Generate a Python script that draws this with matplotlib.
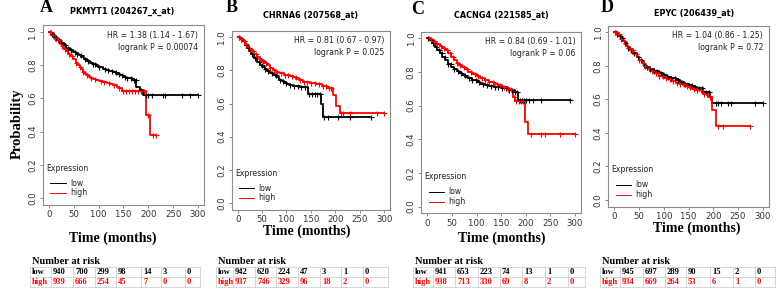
import matplotlib
matplotlib.use('Agg')
import matplotlib.pyplot as plt
import numpy as np
from matplotlib import font_manager as fm
from matplotlib.font_manager import FontProperties

# ---------------- data ----------------
panel_letters = ['A', 'B', 'C', 'D']
titles = ['PKMYT1 (204267_x_at)', 'CHRNA6 (207568_at)', 'CACNG4 (221585_at)', 'EPYC (206439_at)']
hr_texts = ['HR = 1.38 (1.14 - 1.67)', 'HR = 0.81 (0.67 - 0.97)',
            'HR = 0.84 (0.69 - 1.01)', 'HR = 1.04 (0.86 - 1.25)']
p_texts = ['logrank P = 0.00074', 'logrank P = 0.025', 'logrank P = 0.06', 'logrank P = 0.72']

# Kaplan-Meier step points (time in months, survival probability)
a_low_t = [0, 5, 10, 14, 18, 25, 30, 35, 42, 49, 55, 60, 65, 70, 76, 82, 88, 95, 101, 108, 114, 120, 128, 135, 142, 149, 155, 160, 168, 176, 183, 190]
a_low_s = [1.0, 0.99, 0.975, 0.965, 0.955, 0.935, 0.92, 0.905, 0.893, 0.88, 0.87, 0.86, 0.85, 0.84, 0.828, 0.815, 0.805, 0.795, 0.788, 0.78, 0.772, 0.765, 0.758, 0.75, 0.74, 0.73, 0.725, 0.72, 0.712, 0.67, 0.65, 0.622]
a_low_end = 300
a_low_cens = [2, 6, 11, 15, 21, 27, 32, 38, 44, 52, 57, 64, 73, 79, 88, 93, 101, 112, 118, 127, 134, 141, 146, 153, 158, 165, 171, 175, 186, 195, 200, 207, 229, 234, 268, 284, 299]

a_high_t = [0, 5, 10, 16, 22, 26, 30, 34, 38, 43, 49, 54, 58, 62, 65, 69, 72, 76, 80, 85, 89, 95, 100, 108, 116, 122, 128, 136, 141, 146, 196, 203]
a_high_s = [1.0, 0.985, 0.965, 0.95, 0.93, 0.915, 0.90, 0.885, 0.87, 0.853, 0.835, 0.815, 0.80, 0.787, 0.775, 0.762, 0.75, 0.74, 0.73, 0.722, 0.715, 0.71, 0.705, 0.698, 0.69, 0.685, 0.68, 0.67, 0.66, 0.645, 0.50, 0.38]
a_high_end = 215
a_high_cens = [2, 4, 8, 13, 19, 26, 33, 41, 47, 55, 62, 69, 77, 85, 93, 104, 111, 121, 131, 141, 150, 156, 162, 168, 174, 180, 186, 191, 200, 209, 215]

b_low_t = [0, 5, 10, 15, 20, 24, 28, 33, 39, 45, 50, 55, 60, 66, 73, 79, 85, 90, 95, 101, 107, 114, 120, 127, 134, 144, 171, 175]
b_low_s = [1.0, 0.99, 0.975, 0.955, 0.934, 0.917, 0.90, 0.878, 0.853, 0.835, 0.82, 0.807, 0.795, 0.785, 0.773, 0.758, 0.745, 0.735, 0.725, 0.718, 0.713, 0.709, 0.705, 0.702, 0.699, 0.657, 0.60, 0.518]
b_low_end = 273
b_low_cens = [2, 6, 12, 17, 23, 30, 36, 43, 49, 56, 63, 70, 78, 86, 93, 100, 108, 115, 123, 130, 138, 146, 152, 158, 163, 168, 176, 186, 206, 231, 273]

b_high_t = [0, 5, 10, 15, 20, 24, 28, 33, 39, 45, 50, 55, 60, 66, 73, 79, 85, 95, 107, 114, 120, 127, 134, 148, 161, 172, 182, 195, 202, 209]
b_high_s = [1.0, 0.99, 0.98, 0.962, 0.944, 0.93, 0.915, 0.90, 0.884, 0.868, 0.855, 0.842, 0.83, 0.816, 0.803, 0.793, 0.785, 0.775, 0.767, 0.758, 0.75, 0.742, 0.733, 0.725, 0.717, 0.705, 0.693, 0.653, 0.586, 0.546]
b_high_end = 300
b_high_cens = [3, 7, 13, 18, 25, 32, 38, 45, 52, 59, 66, 74, 81, 89, 97, 104, 112, 119, 127, 136, 143, 151, 158, 166, 174, 180, 187, 192, 211, 216, 231, 285, 300]

c_low_t = [0, 5, 10, 16, 20, 25, 30, 36, 42, 49, 55, 60, 65, 70, 77, 83, 91, 100, 108, 117, 126, 135, 151, 165, 178, 185]
c_low_s = [1.0, 0.99, 0.975, 0.95, 0.93, 0.91, 0.89, 0.871, 0.85, 0.832, 0.817, 0.805, 0.795, 0.785, 0.773, 0.762, 0.75, 0.74, 0.73, 0.723, 0.717, 0.712, 0.703, 0.693, 0.683, 0.635]
c_low_end = 290
c_low_cens = [2, 7, 12, 18, 23, 29, 35, 42, 48, 55, 62, 69, 76, 84, 91, 99, 106, 114, 121, 129, 137, 144, 152, 159, 166, 172, 179, 183, 188, 192, 196, 201, 206, 215, 230, 290]

c_high_t = [0, 5, 10, 16, 20, 25, 30, 36, 42, 49, 55, 60, 65, 70, 77, 83, 91, 100, 108, 117, 126, 135, 143, 151, 163, 171, 175, 178, 198, 205]
c_high_s = [1.0, 0.995, 0.985, 0.974, 0.965, 0.955, 0.944, 0.931, 0.912, 0.891, 0.872, 0.855, 0.842, 0.83, 0.816, 0.802, 0.788, 0.775, 0.763, 0.752, 0.741, 0.73, 0.72, 0.709, 0.70, 0.693, 0.653, 0.63, 0.505, 0.43]
c_high_end = 300
c_high_cens = [3, 8, 14, 20, 27, 33, 40, 46, 53, 60, 67, 74, 81, 88, 96, 103, 111, 118, 126, 133, 141, 148, 156, 163, 169, 176, 181, 186, 190, 195, 210, 230, 240, 270, 300]

d_low_t = [0, 5, 10, 14, 18, 22, 25, 28, 32, 38, 45, 50, 55, 60, 65, 72, 80, 90, 99, 107, 115, 124, 133, 141, 150, 158, 167, 180, 194, 197]
d_low_s = [1.0, 0.99, 0.98, 0.965, 0.95, 0.935, 0.92, 0.908, 0.895, 0.875, 0.855, 0.837, 0.82, 0.807, 0.795, 0.782, 0.77, 0.758, 0.746, 0.735, 0.725, 0.713, 0.702, 0.693, 0.685, 0.676, 0.666, 0.645, 0.616, 0.58]
d_low_end = 300
d_low_cens = [2, 6, 11, 16, 22, 28, 34, 40, 47, 53, 60, 67, 73, 80, 87, 94, 101, 108, 115, 122, 129, 136, 143, 150, 157, 164, 171, 178, 185, 191, 205, 210, 215, 230, 235, 285, 300]

d_high_t = [0, 5, 10, 14, 18, 22, 25, 28, 32, 38, 45, 50, 55, 60, 65, 72, 80, 90, 99, 107, 115, 124, 133, 141, 150, 158, 165, 180, 190, 197, 206]
d_high_s = [1.0, 0.99, 0.978, 0.963, 0.948, 0.933, 0.918, 0.906, 0.893, 0.872, 0.85, 0.832, 0.815, 0.80, 0.785, 0.77, 0.755, 0.742, 0.73, 0.72, 0.71, 0.70, 0.69, 0.681, 0.672, 0.664, 0.656, 0.635, 0.615, 0.535, 0.441]
d_high_end = 274
d_high_cens = [1, 4, 9, 14, 20, 26, 31, 37, 43, 50, 57, 63, 70, 77, 84, 91, 98, 105, 112, 119, 126, 133, 140, 147, 154, 161, 168, 175, 182, 188, 193, 210, 220, 274]

# numbers at risk
risk_low = [[940, 700, 299, 98, 14, 3, 0],
            [942, 620, 224, 47, 3, 1, 0],
            [941, 653, 223, 74, 13, 1, 0],
            [945, 697, 289, 90, 15, 2, 0]]
risk_high = [[939, 666, 254, 45, 7, 0, 0],
             [937, 746, 329, 96, 18, 2, 0],
             [938, 713, 330, 69, 8, 2, 0],
             [934, 669, 264, 53, 6, 1, 0]]

xticks = [0, 50, 100, 150, 200, 250, 300]
yticks = [0.0, 0.2, 0.4, 0.6, 0.8, 1.0]

curves = [
    ((a_low_t, a_low_s, a_low_end, a_low_cens), (a_high_t, a_high_s, a_high_end, a_high_cens)),
    ((b_low_t, b_low_s, b_low_end, b_low_cens), (b_high_t, b_high_s, b_high_end, b_high_cens)),
    ((c_low_t, c_low_s, c_low_end, c_low_cens), (c_high_t, c_high_s, c_high_end, c_high_cens)),
    ((d_low_t, d_low_s, d_low_end, d_low_cens), (d_high_t, d_high_s, d_high_end, d_high_cens)),
]

# ---------------- fonts ----------------
def find_font(fragment):
    for f in fm.fontManager.ttflist:
        if f.fname.endswith(fragment):
            return f.fname
    return None

cond_path = find_font('DejaVuSansCondensed.ttf')
condb_path = find_font('DejaVuSansCondensed-Bold.ttf')

def sans(size, bold=False):
    p = condb_path if bold else cond_path
    if p:
        return FontProperties(fname=p, size=size)
    return FontProperties(family='DejaVu Sans', size=size, weight='bold' if bold else 'normal', stretch='condensed')

def serif(size):
    return FontProperties(family=['Liberation Serif', 'DejaVu Serif'], size=size, weight='bold')

# ---------------- layout (pixels) ----------------
W, H = 777, 292
fig = plt.figure(figsize=(W / 100, H / 100), dpi=100)

# axes boxes: left, right, top, bottom
boxes = [(43.0, 204.0, 25.4, 204.6),
         (231.8, 390.0, 30.7, 209.6),
         (421.4, 580.9, 31.6, 213.4),
         (608.4, 768.6, 25.6, 206.7)]
letter_pos = [(46, 8), (232, 8), (418, 10), (607, 8)]
title_pos = [(122, 11), (311, 15), (501, 15), (694, 13)]
xlabel_pos = [(113, 238), (307, 231), (502, 238), (697, 228)]
table_left = [30, 216, 413, 600]
table_right = [200, 388, 585, 775]
table_cols = [[32, 53, 75, 97, 118, 143, 163, 187],
              [218, 235, 257, 278, 300, 322, 343, 365],
              [415, 435, 457, 480, 502, 524, 547, 570],
              [602, 622, 645, 667, 688, 712, 735, 757]]

BLACK = '#000000'
RED = '#FF0000'
GRAY = '#8c8c8c'

ov = fig.add_axes([0, 0, 1, 1], zorder=-1)
ov.set_xlim(0, W)
ov.set_ylim(H, 0)
ov.axis('off')

def km_draw(ax, t, s, end, cens, color):
    xs = list(t) + [end]
    ys = list(s) + [s[-1]]
    ax.step(xs, ys, where='post', color=color, lw=1.3, zorder=3)
    tt = np.asarray(t, dtype=float)
    ss = np.asarray(s, dtype=float)
    c = np.asarray(cens, dtype=float)
    idx = np.searchsorted(tt, c, side='right') - 1
    ax.plot(c, ss[idx], ls='none', marker='+', ms=3.6, mew=0.8, color=color, zorder=4)

for i in range(4):
    l, r, t, b = boxes[i]
    ax = fig.add_axes([l / W, 1 - b / H, (r - l) / W, (b - t) / H])
    ax.set_xlim(-12, 312)
    ax.set_ylim(-0.04, 1.04)
    (lt, ls_, le, lc), (ht, hs, he, hc) = curves[i]
    km_draw(ax, lt, ls_, le, lc, BLACK)
    km_draw(ax, ht, hs, he, hc, RED)

    for sp in ax.spines.values():
        sp.set_color(GRAY)
        sp.set_linewidth(0.8)
    ax.set_xticks(xticks)
    ax.set_xticklabels([str(v) for v in xticks])
    ax.set_yticks(yticks)
    ax.set_yticklabels(['%.1f' % v for v in yticks], rotation=90, va='center')
    ax.tick_params(length=2.5, width=0.7, color=GRAY, pad=1.5, labelcolor='#333333')
    for lbl in ax.get_xticklabels() + ax.get_yticklabels():
        lbl.set_fontproperties(sans(6.8))

    ax.text(0.965, 0.945, hr_texts[i], transform=ax.transAxes, ha='right', va='center',
            fontproperties=sans(6.2), color='#222222')
    ax.text(0.965, 0.878, p_texts[i], transform=ax.transAxes, ha='right', va='center',
            fontproperties=sans(6.2), color='#222222')

    # legend
    ax.text(0.02, 0.204, 'Expression', transform=ax.transAxes, ha='left', va='center',
            fontproperties=sans(6.2), color='#222222')
    ax.plot([0.045, 0.14], [0.12, 0.12], transform=ax.transAxes, color=BLACK, lw=0.7)
    ax.plot([0.045, 0.14], [0.065, 0.065], transform=ax.transAxes, color=RED, lw=0.7)
    ax.text(0.17, 0.12, 'low', transform=ax.transAxes, ha='left', va='center',
            fontproperties=sans(6.2), color='#222222')
    ax.text(0.17, 0.065, 'high', transform=ax.transAxes, ha='left', va='center',
            fontproperties=sans(6.2), color='#222222')

    # annotations in figure pixel space
    ov.text(*letter_pos[i], panel_letters[i], ha='center', va='center', fontproperties=serif(13))
    ov.text(*title_pos[i], titles[i], ha='center', va='center', fontproperties=sans(6.5, bold=True))
    ov.text(*xlabel_pos[i], 'Time (months)', ha='center', va='center', fontproperties=serif(10))

    # number at risk table
    tl, tr = table_left[i], table_right[i]
    ov.text(tl + 2, 261, 'Number at risk', ha='left', va='center', fontproperties=serif(7.5))
    for yy in (267, 277, 287):
        ov.plot([tl, tr], [yy, yy], color='#d0d0d0', lw=0.6)
    cols = table_cols[i]
    bounds = [tl] + [c - 2 for c in cols[1:]] + [tr]
    for xx in bounds:
        ov.plot([xx, xx], [267, 287], color='#d0d0d0', lw=0.6)
    ov.text(cols[0], 272, 'low', ha='left', va='center', fontproperties=serif(6.1), color=BLACK)
    ov.text(cols[0], 282, 'high', ha='left', va='center', fontproperties=serif(6.1), color=RED)
    for j in range(7):
        ov.text(cols[j + 1], 272, str(risk_low[i][j]), ha='left', va='center',
                fontproperties=serif(6.1), color=BLACK)
        ov.text(cols[j + 1], 282, str(risk_high[i][j]), ha='left', va='center',
                fontproperties=serif(6.1), color=RED)

ov.text(17, 124, 'Probability', rotation=90, ha='center', va='center', fontproperties=serif(10.5))

fig.savefig('out.png', dpi=100)
